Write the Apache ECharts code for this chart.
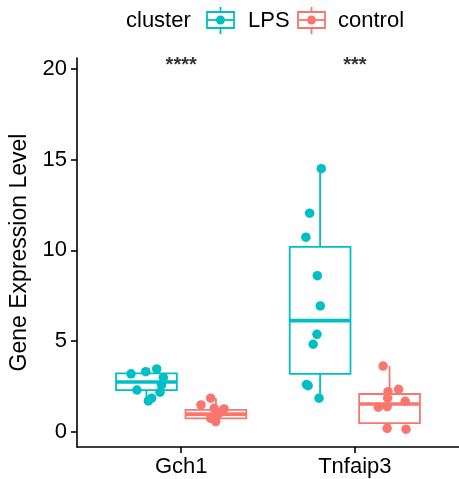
<!DOCTYPE html>
<html>
<head>
<meta charset="utf-8">
<script src="https://cdn.jsdelivr.net/npm/echarts@6/dist/echarts.min.js"></script>
<style>html,body{margin:0;padding:0;background:#fff;}#c{width:459px;height:479px;}</style>
</head>
<body>
<div id="c"></div>
<script>
// ---- data ----
var categories = ['Gch1', 'Tnfaip3'];
var groups = ['LPS', 'control'];
var groupColors = ['#00BFC4', '#F8766D'];
var yTicks = [0, 5, 10, 15, 20];
var significance = ['****', '***'];

// box stats per category: [min, q1, median, q3, max]
var lpsBox = [[1.71, 2.30, 2.75, 3.23, 3.47], [1.86, 3.20, 6.13, 10.20, 14.50]];
var controlBox = [[0.57, 0.75, 0.98, 1.22, 1.86], [0.15, 0.48, 1.54, 2.09, 3.63]];

// individual samples (values) and their horizontal jitter (data units)
var lpsGch1 = [3.20, 3.32, 3.47, 2.99, 2.59, 2.31, 2.19, 1.86, 1.71];
var lpsGch1Jitter = [-0.089, -0.004, 0.059, 0.097, 0.087, -0.055, 0.078, 0.030, 0.011];
var ctrlGch1 = [1.86, 1.49, 1.30, 1.27, 1.10, 0.94, 0.75, 0.57];
var ctrlGch1Jitter = [-0.030, -0.086, -0.010, 0.047, 0.031, 0.009, -0.030, -0.001];
var lpsTnf = [14.50, 12.05, 10.73, 8.61, 6.94, 5.38, 4.83, 2.61, 2.55, 1.86];
var lpsTnfJitter = [0.007, -0.060, -0.082, -0.016, 0.001, -0.018, -0.040, -0.078, -0.069, -0.006];
var ctrlTnf = [3.63, 2.22, 2.35, 1.86, 1.69, 1.36, 1.39, 0.20, 0.15];
var ctrlTnfJitter = [-0.037, -0.009, 0.052, -0.011, 0.090, -0.065, -0.014, -0.014, 0.095];

var dodge = [-0.2, 0.2];
var boxWidth = 0.35;
var sigY = 20.3;

function boxData(stats, gi) {
  return stats.map(function (s, ci) { return [ci + 1 + dodge[gi]].concat(s); });
}
function pointData(vals, jit, ci, gi) {
  return vals.map(function (v, i) { return [ci + 1 + dodge[gi] + jit[i], v]; });
}

function renderBox(params, api) {
  var x = api.value(0);
  var lo = api.coord([x, api.value(1)]);
  var q1 = api.coord([x, api.value(2)]);
  var med = api.coord([x, api.value(3)]);
  var q3 = api.coord([x, api.value(4)]);
  var hi = api.coord([x, api.value(5)]);
  var w = api.size([boxWidth, 0])[0];
  var color = api.visual('color');
  var cx = lo[0];
  return {
    type: 'group',
    children: [
      { type: 'line', shape: { x1: cx, y1: lo[1], x2: cx, y2: q1[1] }, style: { stroke: color, lineWidth: 1.8 } },
      { type: 'line', shape: { x1: cx, y1: q3[1], x2: cx, y2: hi[1] }, style: { stroke: color, lineWidth: 1.8 } },
      { type: 'rect', shape: { x: cx - w / 2, y: q3[1], width: w, height: q1[1] - q3[1] }, style: { fill: '#fff', stroke: color, lineWidth: 1.8 } },
      { type: 'line', shape: { x1: cx - w / 2, y1: med[1], x2: cx + w / 2, y2: med[1] }, style: { stroke: color, lineWidth: 3.6 } }
    ]
  };
}

var chart = echarts.init(document.getElementById('c'), null, { renderer: 'canvas' });
var font = 'Liberation Sans, Arial, sans-serif';

var series = [
  { type: 'custom', name: groups[0], renderItem: renderBox, itemStyle: { color: groupColors[0] }, data: boxData(lpsBox, 0), z: 2 },
  { type: 'custom', name: groups[1], renderItem: renderBox, itemStyle: { color: groupColors[1] }, data: boxData(controlBox, 1), z: 2 },
  { type: 'scatter', symbolSize: 9.5, itemStyle: { color: groupColors[0], opacity: 1 }, z: 3,
    data: pointData(lpsGch1, lpsGch1Jitter, 0, 0).concat(pointData(lpsTnf, lpsTnfJitter, 1, 0)) },
  { type: 'scatter', symbolSize: 9.5, itemStyle: { color: groupColors[1], opacity: 1 }, z: 3,
    data: pointData(ctrlGch1, ctrlGch1Jitter, 0, 1).concat(pointData(ctrlTnf, ctrlTnfJitter, 1, 1)) },
  { type: 'scatter', symbolSize: 0, z: 4,
    data: significance.map(function (s, i) { return [i + 1, sigY, s]; }),
    label: { show: true, position: 'inside', formatter: function (p) { return p.value[2]; },
      color: '#000', fontFamily: font, fontSize: 20, fontWeight: 'bold', offset: [0, 2] } }
];

// legend drawn as graphics
var legendGraphics = [
  { type: 'text', left: 126, top: 10, style: { text: 'cluster', font: '22px ' + font, fill: '#000' } }
];
var keyX = [207, 298];
var labelX = [248, 338];
groups.forEach(function (g, i) {
  var c = groupColors[i];
  var kx = keyX[i];
  legendGraphics.push(
    { type: 'line', shape: { x1: kx + 13.5, y1: 7, x2: kx + 13.5, y2: 34 }, style: { stroke: c, lineWidth: 1.8 } },
    { type: 'rect', shape: { x: kx, y: 12, width: 27, height: 16 }, style: { fill: '#fff', stroke: c, lineWidth: 1.8 } },
    { type: 'line', shape: { x1: kx, y1: 20, x2: kx + 27, y2: 20 }, style: { stroke: c, lineWidth: 1.8 } },
    { type: 'circle', shape: { cx: kx + 13.5, cy: 20, r: 4.5 }, style: { fill: c } },
    { type: 'text', left: labelX[i], top: 10, style: { text: g, font: '22px ' + font, fill: '#000' } }
  );
});

chart.setOption({
  animation: false,
  backgroundColor: '#fff',
  grid: { left: 77, top: 58, width: 387, height: 389 },
  xAxis: {
    type: 'value', min: 0.4, max: 2.6,
    axisLine: { show: true, onZero: false, lineStyle: { color: '#000', width: 1.6 } },
    axisTick: { show: true, customValues: [1, 2], length: 6, lineStyle: { color: '#000', width: 1.6 } },
    axisLabel: { customValues: [1, 2], formatter: function (v) { return categories[Math.round(v) - 1]; },
      color: '#000', fontFamily: font, fontSize: 22, margin: 9 },
    splitLine: { show: false }
  },
  yAxis: {
    type: 'value', min: -0.83, max: 20.6,
    name: 'Gene Expression Level', nameLocation: 'middle', nameGap: 39,
    nameTextStyle: { color: '#000', fontFamily: font, fontSize: 23 },
    axisLine: { show: true, onZero: false, lineStyle: { color: '#000', width: 1.6 } },
    axisTick: { show: true, customValues: yTicks, length: 6, lineStyle: { color: '#000', width: 1.6 } },
    axisLabel: { customValues: yTicks, color: '#000', fontFamily: font, fontSize: 22, margin: 10 },
    splitLine: { show: false }
  },
  graphic: legendGraphics,
  series: series
});
</script>
</body>
</html>
